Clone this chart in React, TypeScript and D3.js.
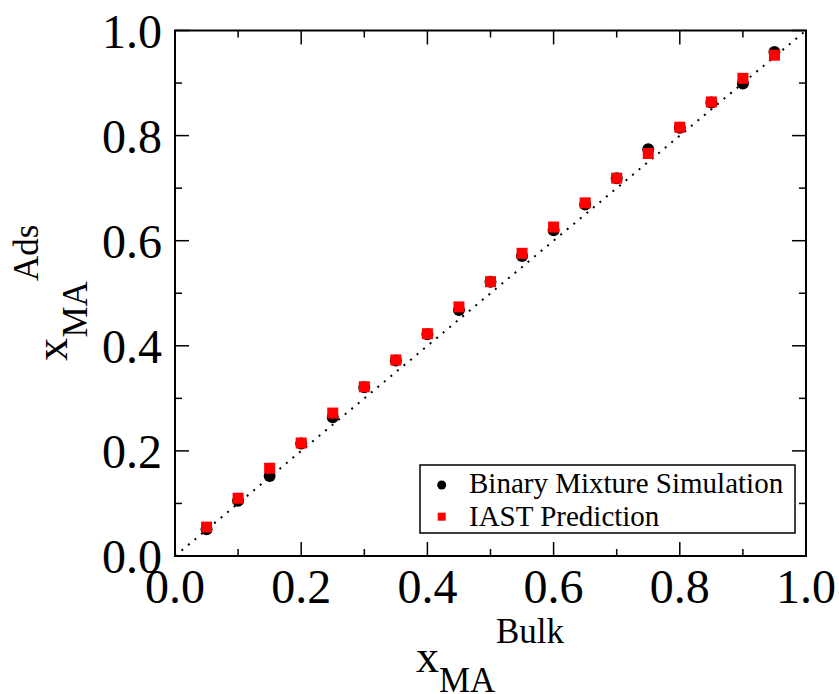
import React from "react";
import * as d3 from "d3";

const bulkX = [0.05, 0.1, 0.15, 0.2, 0.25, 0.3, 0.35, 0.4, 0.45, 0.5, 0.55, 0.6, 0.65, 0.7, 0.75, 0.8, 0.85, 0.9, 0.95];
const binarySim = [0.051, 0.105, 0.152, 0.214, 0.264, 0.321, 0.372, 0.422, 0.468, 0.522, 0.571, 0.620, 0.669, 0.719, 0.774, 0.815, 0.863, 0.899, 0.959];
const iastPred = [0.055, 0.110, 0.167, 0.215, 0.272, 0.322, 0.373, 0.423, 0.474, 0.522, 0.576, 0.626, 0.672, 0.719, 0.766, 0.816, 0.864, 0.909, 0.953];
const majorTicks = [0, 0.2, 0.4, 0.6, 0.8, 1.0];
const minorTicks = [0.1, 0.3, 0.5, 0.7, 0.9];
const legendLabels = ["Binary Mixture Simulation", "IAST Prediction"];

const FONT = "'Liberation Serif', 'Times New Roman', serif";

export default function App() {
  const W = 839, H = 694;
  const L = 175, R = 806, T = 30.5, B = 556;
  const x = d3.scaleLinear().domain([0, 1]).range([L, R]);
  const y = d3.scaleLinear().domain([0, 1]).range([B, T]);
  const fmt = d3.format(".1f");
  const majLen = 14, minLen = 7;

  const ticks: JSX.Element[] = [];
  majorTicks.concat(minorTicks).forEach((t, i) => {
    const len = majorTicks.includes(t) ? majLen : minLen;
    ticks.push(<line key={"b" + i} x1={x(t)} x2={x(t)} y1={B} y2={B - len} />);
    ticks.push(<line key={"t" + i} x1={x(t)} x2={x(t)} y1={T} y2={T + len} />);
    ticks.push(<line key={"l" + i} x1={L} x2={L + len} y1={y(t)} y2={y(t)} />);
    ticks.push(<line key={"r" + i} x1={R} x2={R - len} y1={y(t)} y2={y(t)} />);
  });

  const sq = 11;
  return (
    <svg width={W} height={H} style={{ position: "absolute", left: 0, top: 0 }}>
      <rect x={0} y={0} width={W} height={H} fill="white" />
      {/* diagonal */}
      <line x1={x(0)} y1={y(0)} x2={x(1)} y2={y(1)} stroke="black" strokeWidth={2} strokeDasharray="2 6.5" />
      {/* data */}
      {bulkX.map((v, i) => (
        <circle key={"c" + i} cx={x(v)} cy={y(binarySim[i])} r={6} fill="black" />
      ))}
      {bulkX.map((v, i) => (
        <rect key={"s" + i} x={x(v) - sq / 2} y={y(iastPred[i]) - sq / 2} width={sq} height={sq} fill="#ff0000" />
      ))}
      {/* ticks */}
      <g stroke="black" strokeWidth={1.5}>{ticks}</g>
      {/* frame */}
      <rect x={L} y={T} width={R - L} height={B - T} fill="none" stroke="black" strokeWidth={2} />
      {/* tick labels */}
      <g fontFamily={FONT} fontSize={48} fill="black">
        {majorTicks.map((t, i) => (
          <text key={"xl" + i} x={x(t)} y={603} textAnchor="middle">{fmt(t)}</text>
        ))}
        {majorTicks.map((t, i) => (
          <text key={"yl" + i} x={162} y={y(t) + 17} textAnchor="end">{fmt(t)}</text>
        ))}
      </g>
      {/* x axis title */}
      <g fontFamily={FONT} fill="black">
        <text x={416} y={672} fontSize={46}>x</text>
        <text x={439} y={691.5} fontSize={35}>MA</text>
        <text x={496} y={642.5} fontSize={35}>Bulk</text>
      </g>
      {/* y axis title */}
      <g fontFamily={FONT} fill="black">
        <text transform="translate(66.5,361) rotate(-90)" fontSize={46}>x</text>
        <text transform="translate(87,337.5) rotate(-90)" fontSize={35}>MA</text>
        <text transform="translate(38,281) rotate(-90)" fontSize={35}>Ads</text>
      </g>
      {/* legend */}
      <rect x={420} y={465} width={375} height={68} fill="white" stroke="black" strokeWidth={1.5} />
      <circle cx={441.7} cy={485} r={4.5} fill="black" />
      <rect x={441.7 - 4} y={516.7 - 4} width={8} height={8} fill="#ff0000" />
      <g fontFamily={FONT} fontSize={29} fill="black">
        <text x={469} y={493.3}>{legendLabels[0]}</text>
        <text x={469} y={526}>{legendLabels[1]}</text>
      </g>
    </svg>
  );
}
